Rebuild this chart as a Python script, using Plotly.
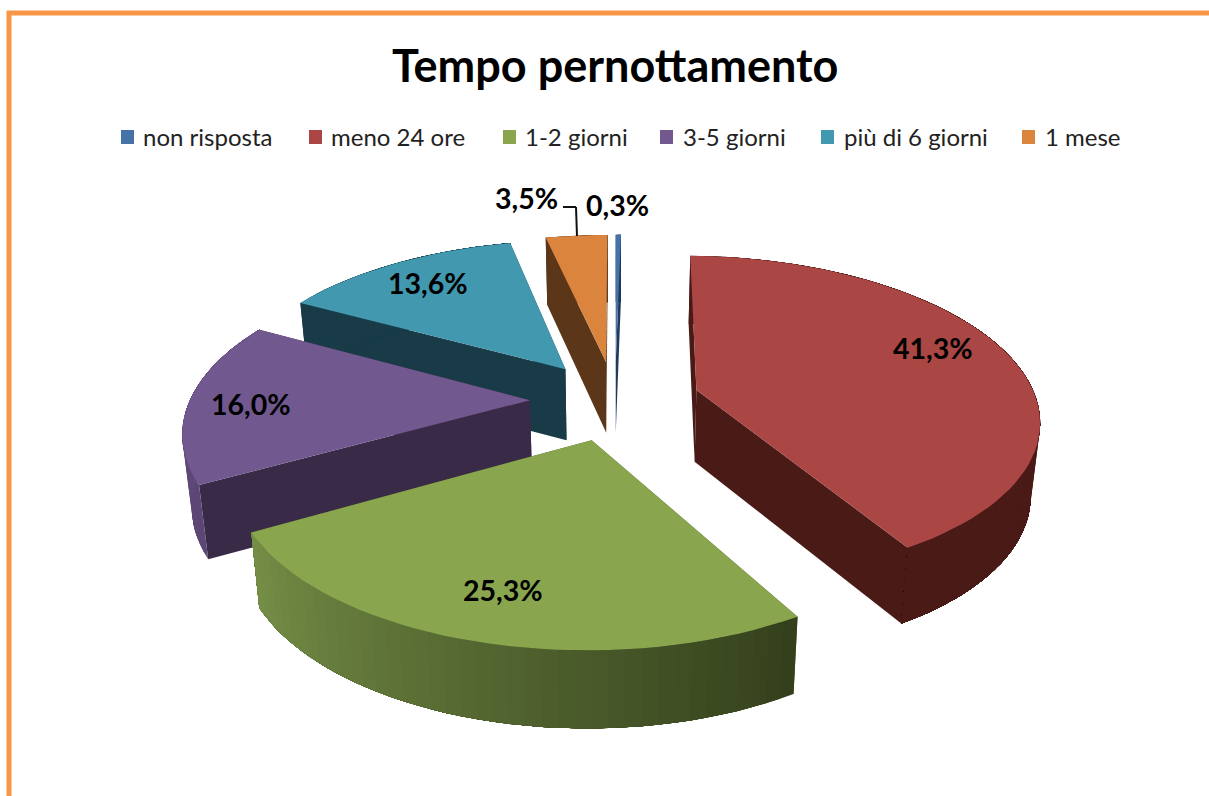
import numpy as np
import plotly.graph_objects as go

categories = ["non risposta", "meno 24 ore", "1-2 giorni", "3-5 giorni", "più di 6 giorni", "1 mese"]
values = [0.3, 41.3, 25.3, 16.0, 13.6, 3.5]
value_labels = ["0,3%", "41,3%", "25,3%", "16,0%", "13,6%", "3,5%"]
top_colors = ["#4572A7", "#AA4643", "#89A54E", "#71588F", "#4198AF", "#DB843D"]
radial_colors = ["#22395A", "#4A1A17", "#4A5A28", "#392A48", "#183B47", "#5C3618"]
# wall colour at the start and at the end of each slice's arc
wall_start = ["#22395A", "#4A1A17", "#333F1B", "#5C4675", "#183B47", "#5C3618"]
wall_end = ["#22395A", "#4A1A17", "#768F47", "#634C80", "#183B47", "#5C3618"]
draw_order = [0, 5, 4, 3, 1, 2]
label_xy = [(617, 205), (933, 348), (503, 590), (251, 404), (428, 283), (526, 198)]
legend_square_x = [127, 315, 509, 666, 827, 1028]
legend_text_x = [141, 329, 523, 681, 842, 1043]

CX, CY, R, EXPLODE, DEPTH, D, TILT, BOTTOM = 615, 400, 340, 85, 72, 2032, 0.47, 0.978


def project(X, Y, bottom=False):
    s = D / (D + Y)
    x = CX + X * s
    y = CY - TILT * Y * s
    if bottom:
        x = CX + (x - CX) * BOTTOM
        y = y + DEPTH * s ** 0.35
    return x, y


def mix(a, b, t):
    ca = [int(a[i:i + 2], 16) for i in (1, 3, 5)]
    cb = [int(b[i:i + 2], 16) for i in (1, 3, 5)]
    return "rgb(%d,%d,%d)" % tuple(round(p + (q - p) * t) for p, q in zip(ca, cb))


def poly(fig, xs, ys, color):
    fig.add_trace(go.Scatter(x=list(xs), y=list(ys), mode="lines", fill="toself", fillcolor=color,
                             line=dict(width=0), hoverinfo="skip", showlegend=False))


fig = go.Figure()
edges = np.cumsum([0] + values) / sum(values) * 2 * np.pi
for i in draw_order:
    a0, a1 = edges[i], edges[i + 1]
    mid = (a0 + a1) / 2
    ox, oy = EXPLODE * np.sin(mid), EXPLODE * np.cos(mid)
    n = max(3, int((a1 - a0) / (2 * np.pi) * 160))
    ang = np.linspace(a0, a1, n + 1)
    ax, ay = ox + R * np.sin(ang), oy + R * np.cos(ang)
    tx, ty = project(ax, ay)
    bx, by = project(ax, ay, True)
    atx, aty = project(ox, oy)
    abx, aby = project(ox, oy, True)
    # radial walls
    poly(fig, [atx, tx[0], bx[0], abx], [aty, ty[0], by[0], aby], radial_colors[i])
    poly(fig, [atx, tx[-1], bx[-1], abx], [aty, ty[-1], by[-1], aby], radial_colors[i])
    # outer wall: each strip runs to the arc's end and the next one paints over it, leaving no seams
    for k in range(n):
        col = mix(wall_start[i], wall_end[i], (k + 0.5) / n)
        poly(fig, [*tx[k:], *bx[k:][::-1]], [*ty[k:], *by[k:][::-1]], col)
    # top face
    poly(fig, [atx, *tx], [aty, *ty], top_colors[i])

shapes = [
    dict(type="rect", xref="x", yref="y", x0=9, y0=13, x1=1240, y1=830, fillcolor="rgba(0,0,0,0)",
         line=dict(color="#F79646", width=5), layer="above"),
    dict(type="line", xref="x", yref="y", x0=563, y0=207, x1=576, y1=207, line=dict(color="#111111", width=2)),
    dict(type="line", xref="x", yref="y", x0=576, y0=207, x1=577, y1=236, line=dict(color="#111111", width=2)),
]
annotations = [dict(x=615, y=65, xref="x", yref="y", text="<b>Tempo pernottamento</b>", showarrow=False,
                    font=dict(family="Lato", size=45, color="#000000"))]
for name, col, sx, tx_ in zip(categories, top_colors, legend_square_x, legend_text_x):
    shapes.append(dict(type="rect", xref="x", yref="y", x0=sx - 6, x1=sx + 7, y0=130, y1=144,
                       fillcolor=col, line=dict(width=0)))
    annotations.append(dict(x=tx_, y=136, xref="x", yref="y", text=name, showarrow=False, xanchor="left",
                            font=dict(family="Lato", size=24, color="#222222")))
for txt, (lx, ly) in zip(value_labels, label_xy):
    annotations.append(dict(x=lx, y=ly, xref="x", yref="y", text="<b>%s</b>" % txt, showarrow=False,
                            font=dict(family="Lato", size=28.5, color="#000000")))

fig.update_layout(
    width=1209, height=796, margin=dict(l=0, r=0, t=0, b=0), showlegend=False,
    paper_bgcolor="white", plot_bgcolor="white", shapes=shapes, annotations=annotations,
    xaxis=dict(range=[0, 1209], visible=False, fixedrange=True),
    yaxis=dict(range=[796, 0], visible=False, fixedrange=True),
)
fig.write_html("out.html", post_script="document.body.style.margin='0';document.body.style.overflow='hidden';",
               config={"displayModeBar": False})
